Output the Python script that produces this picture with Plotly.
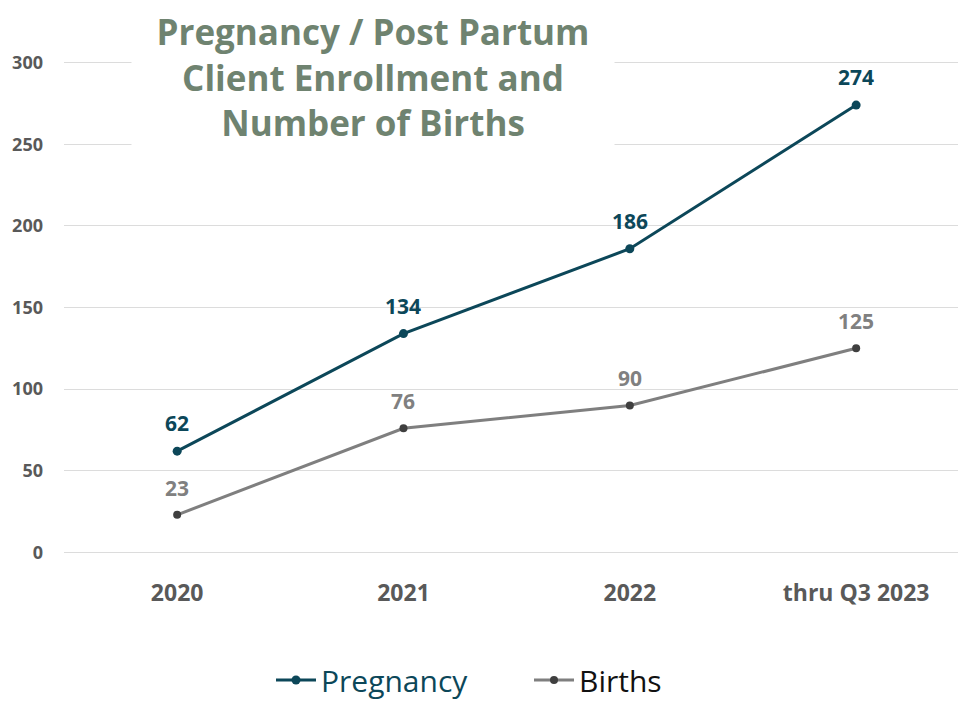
import plotly.graph_objects as go

categories = ["2020", "2021", "2022", "thru Q3 2023"]
pregnancy = [62, 134, 186, 274]
births = [23, 76, 90, 125]
y_ticks = [0, 50, 100, 150, 200, 250, 300]

TEAL = "#0c4759"
GRAYLINE = "#7f7f7f"
GRAYMARK = "#3f3f3f"
TITLE_COLOR = "#6f8370"

W, H = 958, 702
ML, MR, MT, MB = 64, 0, 61, 148
Y_RANGE = [-1, 301]

fig = go.Figure()
fig.add_trace(go.Scatter(
    x=list(range(len(categories))), y=pregnancy, mode="lines+markers",
    name="<span style='color:%s'>Pregnancy</span>" % TEAL,
    line=dict(color=TEAL, width=3), marker=dict(color=TEAL, size=9),
))
fig.add_trace(go.Scatter(
    x=list(range(len(categories))), y=births, mode="lines+markers",
    name="<span style='color:#111111'>Births</span>",
    line=dict(color=GRAYLINE, width=3), marker=dict(color=GRAYMARK, size=8),
))

annotations = []
for i, v in enumerate(pregnancy):
    annotations.append(dict(x=i, y=v, xref="x", yref="y", text="<b>%d</b>" % v,
                            showarrow=False, yshift=28,
                            font=dict(family="Open Sans", size=21, color=TEAL)))
for i, v in enumerate(births):
    annotations.append(dict(x=i, y=v, xref="x", yref="y", text="<b>%d</b>" % v,
                            showarrow=False, yshift=27,
                            font=dict(family="Open Sans", size=21, color="#808080")))

pw = W - ML - MR
ph = H - MT - MB
annotations.append(dict(
    x=(373 - ML) / pw, y=(H - MB) / ph, xref="paper", yref="paper",
    xanchor="center", yanchor="top", showarrow=False,
    text="<b>Pregnancy / Post Partum<br>Client Enrollment and<br>Number of Births</b>",
    font=dict(family="Open Sans", size=35, color=TITLE_COLOR),
    bgcolor="white", width=480, height=150, align="center", valign="middle",
))

fig.update_layout(
    width=W, height=H,
    margin=dict(l=ML, r=MR, t=MT, b=MB),
    paper_bgcolor="white", plot_bgcolor="white",
    showlegend=True,
    legend=dict(orientation="h", x=(271 - ML) / pw, xanchor="left",
                yref="container", y=(H - 680) / H, yanchor="middle",
                font=dict(family="Open Sans", size=30), itemwidth=40,
                entrywidth=203,
                bgcolor="rgba(0,0,0,0)"),
    annotations=annotations,
    xaxis=dict(tickmode="array", tickvals=list(range(len(categories))), ticktext=categories,
               range=[-0.5, 3.45], showgrid=False, zeroline=False, showline=False,
               ticks="", ticklabelstandoff=23,
               tickfont=dict(family="Open Sans", size=23, color="#595959", weight="bold")),
    yaxis=dict(tickmode="array", tickvals=y_ticks, range=Y_RANGE,
               showgrid=True, gridcolor="#dcdcdc", gridwidth=1, zeroline=False,
               showline=False, ticks="", ticklabelstandoff=20,
               tickfont=dict(family="Open Sans", size=18, color="#595959", weight="bold")),
)

fig.write_html("out.html", config={"displayModeBar": False},
               post_script="document.body.style.margin='0';document.body.style.overflow='hidden';")
